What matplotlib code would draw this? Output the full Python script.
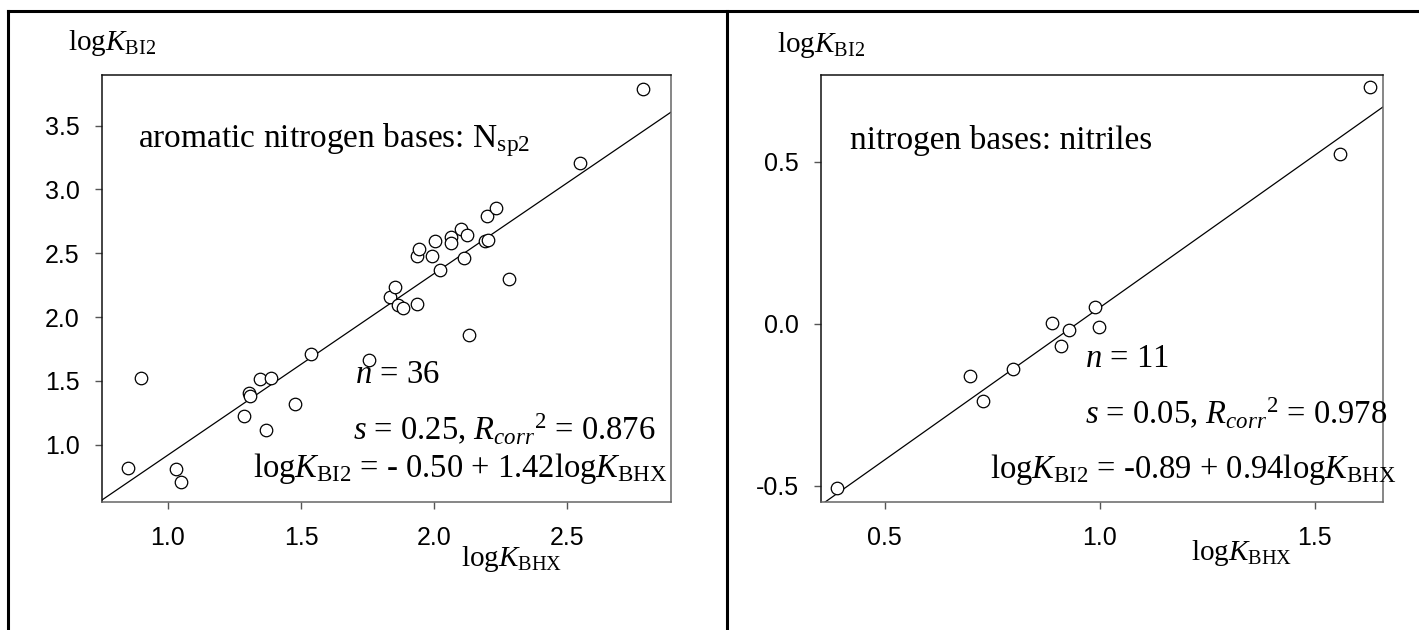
import matplotlib
matplotlib.use("Agg")
import matplotlib.pyplot as plt
from matplotlib.lines import Line2D

plt.rcParams["mathtext.fontset"] = "custom"
plt.rcParams["mathtext.rm"] = "Liberation Serif"
plt.rcParams["mathtext.it"] = "Liberation Serif:italic"
plt.rcParams["mathtext.bf"] = "Liberation Serif:bold"

# Aromatic nitrogen bases (N sp2): logK_BHX vs logK_BI2
nsp2_bhx = [0.850, 0.900, 1.029, 1.049, 1.287, 1.306, 1.308, 1.346, 1.387,
            1.367, 1.476, 1.536, 1.756, 1.835, 1.853, 1.866, 1.885, 1.935,
            1.935, 1.945, 1.994, 2.004, 2.023, 2.063, 2.063, 2.101, 2.113,
            2.123, 2.132, 2.192, 2.204, 2.200, 2.232, 2.283, 2.550, 2.787]
nsp2_bi2 = [0.816, 1.523, 0.808, 0.706, 1.227, 1.406, 1.383, 1.515, 1.526,
            1.115, 1.323, 1.714, 1.661, 2.156, 2.234, 2.094, 2.073, 2.099,
            2.482, 2.534, 2.482, 2.599, 2.365, 2.625, 2.581, 2.691, 2.459,
            2.641, 1.856, 2.594, 2.602, 2.789, 2.855, 2.295, 3.206, 3.790]
nsp2_fit = (-0.50, 1.42)

# Nitriles
nitr_bhx = [0.389, 0.699, 0.729, 0.799, 0.889, 0.909, 0.928, 0.990, 0.999,
            1.558, 1.628]
nitr_bi2 = [-0.508, -0.160, -0.239, -0.139, 0.002, -0.069, -0.019, 0.052,
            -0.009, 0.524, 0.730]
nitr_fit = (-0.89, 0.94)

nsp2_xticks = [1.0, 1.5, 2.0, 2.5]
nsp2_yticks = [1.0, 1.5, 2.0, 2.5, 3.0, 3.5]
nitr_xticks = [0.5, 1.0, 1.5]
nitr_yticks = [-0.5, 0.0, 0.5]

W, H = 1419, 630
fig = plt.figure(figsize=(W / 100, H / 100), dpi=100)


def fx(px):
    return px / W


def fy(py):
    return 1 - py / H


SERIF = "Liberation Serif"
SANS = "Liberation Sans"
LABEL_SIZE = 21
NOTE_SIZE = 23.5


def panel(rect, xs, ys, fit, xlim, ylim, xticks, yticks):
    ax = fig.add_axes(rect)
    ax.plot(xs, ys, linestyle="none", marker="o", markersize=9,
            markerfacecolor="white", markeredgecolor="black",
            markeredgewidth=0.9, zorder=3)
    a, b = fit
    ax.plot(list(xlim), [a + b * xlim[0], a + b * xlim[1]], color="black",
            linewidth=0.9, zorder=2)
    ax.set_xlim(*xlim)
    ax.set_ylim(*ylim)
    ax.set_xticks(xticks)
    ax.set_yticks(yticks)
    ax.set_xticklabels([f"{t:.1f}" for t in xticks])
    ax.set_yticklabels([f"{t:.1f}" for t in yticks])
    for lab in ax.get_xticklabels() + ax.get_yticklabels():
        lab.set_fontfamily(SANS)
        lab.set_fontsize(18)
    ax.tick_params(axis="x", direction="out", length=5, width=1.0,
                   color="#555555", pad=12)
    ax.tick_params(axis="y", direction="out", length=5, width=1.0,
                   color="#555555", pad=11)
    for side in ("left", "top"):
        ax.spines[side].set_color("#111111")
        ax.spines[side].set_linewidth(1.1)
    for side in ("right", "bottom"):
        ax.spines[side].set_color("#666666")
        ax.spines[side].set_linewidth(1.1)
    return ax


ax1 = panel([fx(102), fy(502), fx(671) - fx(102), fy(75) - fy(502)],
            nsp2_bhx, nsp2_bi2, nsp2_fit, (0.752, 2.891), (0.552, 3.896),
            nsp2_xticks, nsp2_yticks)
ax2 = panel([fx(821), fy(502), fx(1383) - fx(821), fy(75) - fy(502)],
            nitr_bhx, nitr_bi2, nitr_fit, (0.352, 1.659), (-0.550, 0.768),
            nitr_xticks, nitr_yticks)

ylab = r"log$K_{\mathrm{BI2}}$"
xlab = r"log$K_{\mathrm{BHX}}$"


def ftext(px, py, s, ha="left", size=NOTE_SIZE):
    fig.text(fx(px), fy(py), s, ha=ha, va="baseline", family=SERIF,
             fontsize=size, color="black")


# axis labels
ftext(68, 50, ylab, size=LABEL_SIZE)
ftext(777, 52, ylab, size=LABEL_SIZE)
ftext(461, 566, xlab, size=LABEL_SIZE)
ftext(1191, 560, xlab, size=LABEL_SIZE)

# panel annotations (left)
ftext(138, 147, r"aromatic nitrogen bases: N$_{\mathrm{sp2}}$", size=24)
ftext(355, 383, r"$n$ = 36")
ftext(353, 440, r"$s$ = 0.25, $R_{corr}{}^{2}$ = 0.876")
ftext(667, 477, r"log$K_{\mathrm{BI2}}$ = - 0.50 + 1.42log$K_{\mathrm{BHX}}$",
      ha="right")

# panel annotations (right)
ftext(850, 149, "nitrogen bases: nitriles", size=24)
ftext(1085, 367, r"$n$ = 11")
ftext(1085, 424, r"$s$ = 0.05, $R_{corr}{}^{2}$ = 0.978")
ftext(990, 478, r"log$K_{\mathrm{BI2}}$ = -0.89 + 0.94log$K_{\mathrm{BHX}}$")

# table-style frame around the two panels
lw = 2.2
fig.add_artist(Line2D([fx(8), 1.0], [fy(11), fy(11)], color="black",
                      linewidth=lw, transform=fig.transFigure))
for xp in (8, 727):
    fig.add_artist(Line2D([fx(xp), fx(xp)], [fy(11), 0.0], color="black",
                          linewidth=lw, transform=fig.transFigure))

fig.savefig("out.png", dpi=100, facecolor="white")
